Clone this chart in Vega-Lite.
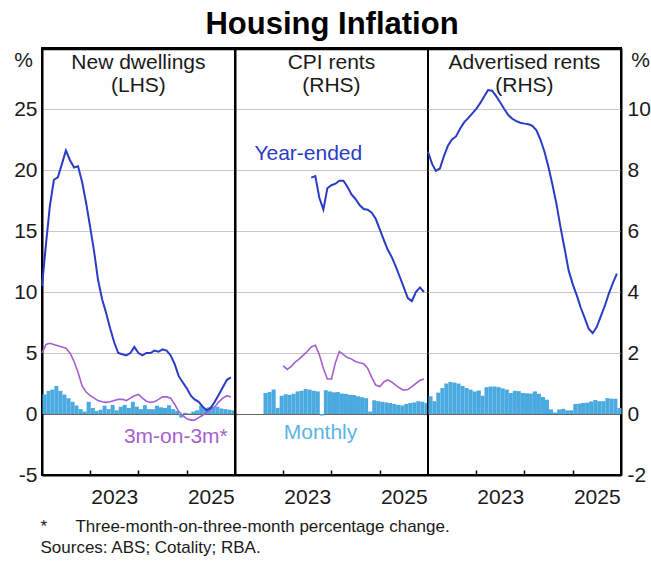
{
  "$schema": "https://vega.github.io/schema/vega-lite/v6.json",
  "padding": {"left": 12, "top": 9, "right": 0, "bottom": 0},
  "title": {"text": "Housing Inflation", "fontSize": 31, "fontWeight": "bold", "font": "Liberation Sans", "color": "#000", "anchor": "middle", "offset": 6},
  "spacing": 0,
  "bounds": "flush",
  "resolve": {"scale": {"y": "independent", "x": "independent"}},
  "datasets": {
    "nd": [
      {"date": "2022-01", "ye": 10.5, "q": 5.0, "m": 1.6},
      {"date": "2022-02", "ye": 14, "q": 5.7, "m": 1.9},
      {"date": "2022-03", "ye": 17, "q": 5.8, "m": 2.0},
      {"date": "2022-04", "ye": 19.2, "q": 5.7, "m": 2.3},
      {"date": "2022-05", "ye": 19.4, "q": 5.6, "m": 1.9},
      {"date": "2022-06", "ye": 20.5, "q": 5.5, "m": 1.6},
      {"date": "2022-07", "ye": 21.6, "q": 5.4, "m": 1.3},
      {"date": "2022-08", "ye": 20.8, "q": 5.0, "m": 1.0},
      {"date": "2022-09", "ye": 20.2, "q": 4.3, "m": 0.7},
      {"date": "2022-10", "ye": 20.3, "q": 3.4, "m": 0.4},
      {"date": "2022-11", "ye": 19.0, "q": 2.3, "m": 0.2},
      {"date": "2022-12", "ye": 17.3, "q": 1.8, "m": 1.0},
      {"date": "2023-01", "ye": 15.3, "q": 1.5, "m": 0.5},
      {"date": "2023-02", "ye": 13.2, "q": 1.3, "m": 0.25},
      {"date": "2023-03", "ye": 11.0, "q": 1.1, "m": 0.35},
      {"date": "2023-04", "ye": 9.4, "q": 1.0, "m": 0.68},
      {"date": "2023-05", "ye": 8.3, "q": 0.95, "m": 0.4},
      {"date": "2023-06", "ye": 7.0, "q": 1.0, "m": 0.74},
      {"date": "2023-07", "ye": 5.9, "q": 1.1, "m": 0.3},
      {"date": "2023-08", "ye": 5.0, "q": 1.2, "m": 0.6},
      {"date": "2023-09", "ye": 4.9, "q": 1.2, "m": 0.75},
      {"date": "2023-10", "ye": 4.8, "q": 1.1, "m": 0.5},
      {"date": "2023-11", "ye": 5.0, "q": 1.3, "m": 1.0},
      {"date": "2023-12", "ye": 5.5, "q": 1.5, "m": 0.6},
      {"date": "2024-01", "ye": 5.0, "q": 1.6, "m": 0.4},
      {"date": "2024-02", "ye": 4.8, "q": 1.3, "m": 0.72},
      {"date": "2024-03", "ye": 5.0, "q": 1.05, "m": 0.4},
      {"date": "2024-04", "ye": 5.0, "q": 0.95, "m": 0.4},
      {"date": "2024-05", "ye": 5.2, "q": 1.0, "m": 0.68},
      {"date": "2024-06", "ye": 5.1, "q": 1.2, "m": 0.55},
      {"date": "2024-07", "ye": 5.3, "q": 1.4, "m": 0.5},
      {"date": "2024-08", "ye": 5.2, "q": 1.4, "m": 0.72},
      {"date": "2024-09", "ye": 4.8, "q": 1.3, "m": 0.4},
      {"date": "2024-10", "ye": 4.1, "q": 0.8, "m": 0.25},
      {"date": "2024-11", "ye": 3.1, "q": 0.2, "m": -0.3},
      {"date": "2024-12", "ye": 2.6, "q": -0.1, "m": 0.1},
      {"date": "2025-01", "ye": 2.1, "q": -0.4, "m": 0.05},
      {"date": "2025-02", "ye": 1.5, "q": -0.5, "m": 0.2},
      {"date": "2025-03", "ye": 1.2, "q": -0.5, "m": 0.3},
      {"date": "2025-04", "ye": 1.0, "q": -0.3, "m": 0.68},
      {"date": "2025-05", "ye": 0.6, "q": -0.1, "m": 0.5},
      {"date": "2025-06", "ye": 0.3, "q": 0.1, "m": 0.55},
      {"date": "2025-07", "ye": 0.5, "q": 0.4, "m": 0.55},
      {"date": "2025-08", "ye": 1.0, "q": 0.6, "m": 0.6},
      {"date": "2025-09", "ye": 1.6, "q": 1.0, "m": 0.45},
      {"date": "2025-10", "ye": 2.2, "q": 1.3, "m": 0.4},
      {"date": "2025-11", "ye": 2.8, "q": 1.5, "m": 0.35},
      {"date": "2025-12", "ye": 3.0, "q": 1.4, "m": 0.3}
    ],
    "cpi": [
      {"date": "2022-08", "ye": null, "q": null, "m": 0.69},
      {"date": "2022-09", "ye": null, "q": null, "m": 0.72},
      {"date": "2022-10", "ye": null, "q": null, "m": 0.8},
      {"date": "2022-11", "ye": null, "q": null, "m": 0.2},
      {"date": "2022-12", "ye": null, "q": null, "m": 0.6},
      {"date": "2023-01", "ye": null, "q": 1.58, "m": 0.65},
      {"date": "2023-02", "ye": null, "q": 1.46, "m": 0.63},
      {"date": "2023-03", "ye": null, "q": 1.55, "m": 0.66},
      {"date": "2023-04", "ye": null, "q": 1.7, "m": 0.74},
      {"date": "2023-05", "ye": null, "q": 1.8, "m": 0.76},
      {"date": "2023-06", "ye": null, "q": 1.92, "m": 0.82},
      {"date": "2023-07", "ye": null, "q": 2.05, "m": 0.8},
      {"date": "2023-08", "ye": 7.75, "q": 2.2, "m": 0.76},
      {"date": "2023-09", "ye": 7.8, "q": 2.25, "m": 0.74},
      {"date": "2023-10", "ye": 7.1, "q": 1.95, "m": -0.05},
      {"date": "2023-11", "ye": 6.7, "q": 1.5, "m": 0.78},
      {"date": "2023-12", "ye": 7.4, "q": 1.15, "m": 0.74},
      {"date": "2024-01", "ye": 7.5, "q": 1.15, "m": 0.71},
      {"date": "2024-02", "ye": 7.55, "q": 1.7, "m": 0.72},
      {"date": "2024-03", "ye": 7.65, "q": 2.05, "m": 0.67},
      {"date": "2024-04", "ye": 7.65, "q": 1.95, "m": 0.66},
      {"date": "2024-05", "ye": 7.45, "q": 1.85, "m": 0.63},
      {"date": "2024-06", "ye": 7.2, "q": 1.8, "m": 0.62},
      {"date": "2024-07", "ye": 7.05, "q": 1.72, "m": 0.58},
      {"date": "2024-08", "ye": 6.85, "q": 1.68, "m": 0.55},
      {"date": "2024-09", "ye": 6.72, "q": 1.65, "m": 0.52},
      {"date": "2024-10", "ye": 6.7, "q": 1.5, "m": 0.08},
      {"date": "2024-11", "ye": 6.6, "q": 1.2, "m": 0.45},
      {"date": "2024-12", "ye": 6.4, "q": 0.95, "m": 0.42},
      {"date": "2025-01", "ye": 6.05, "q": 0.9, "m": 0.4},
      {"date": "2025-02", "ye": 5.7, "q": 1.05, "m": 0.38},
      {"date": "2025-03", "ye": 5.4, "q": 1.12, "m": 0.36},
      {"date": "2025-04", "ye": 5.15, "q": 1.05, "m": 0.33},
      {"date": "2025-05", "ye": 4.85, "q": 0.95, "m": 0.3},
      {"date": "2025-06", "ye": 4.5, "q": 0.85, "m": 0.28},
      {"date": "2025-07", "ye": 4.16, "q": 0.78, "m": 0.33},
      {"date": "2025-08", "ye": 3.8, "q": 0.8, "m": 0.36},
      {"date": "2025-09", "ye": 3.7, "q": 0.9, "m": 0.38},
      {"date": "2025-10", "ye": 4.0, "q": 1.0, "m": 0.42},
      {"date": "2025-11", "ye": 4.15, "q": 1.1, "m": 0.4},
      {"date": "2025-12", "ye": 4.0, "q": 1.15, "m": 0.36}
    ],
    "adv": [
      {"date": "2022-01", "ye": 8.6, "m": 0.58},
      {"date": "2022-02", "ye": 8.2, "m": 0.42},
      {"date": "2022-03", "ye": 7.97, "m": 0.7},
      {"date": "2022-04", "ye": 8.05, "m": 0.85},
      {"date": "2022-05", "ye": 8.45, "m": 1.0},
      {"date": "2022-06", "ye": 8.8, "m": 1.05},
      {"date": "2022-07", "ye": 9.0, "m": 1.03},
      {"date": "2022-08", "ye": 9.1, "m": 1.0},
      {"date": "2022-09", "ye": 9.35, "m": 0.92},
      {"date": "2022-10", "ye": 9.56, "m": 0.85},
      {"date": "2022-11", "ye": 9.7, "m": 0.8},
      {"date": "2022-12", "ye": 9.85, "m": 0.74},
      {"date": "2023-01", "ye": 10.0, "m": 0.77},
      {"date": "2023-02", "ye": 10.2, "m": 0.6},
      {"date": "2023-03", "ye": 10.4, "m": 0.88},
      {"date": "2023-04", "ye": 10.62, "m": 0.9},
      {"date": "2023-05", "ye": 10.6, "m": 0.9},
      {"date": "2023-06", "ye": 10.42, "m": 0.88},
      {"date": "2023-07", "ye": 10.22, "m": 0.84},
      {"date": "2023-08", "ye": 10.0, "m": 0.8},
      {"date": "2023-09", "ye": 9.8, "m": 0.69},
      {"date": "2023-10", "ye": 9.68, "m": 0.76},
      {"date": "2023-11", "ye": 9.6, "m": 0.75},
      {"date": "2023-12", "ye": 9.55, "m": 0.69},
      {"date": "2024-01", "ye": 9.52, "m": 0.68},
      {"date": "2024-02", "ye": 9.5, "m": 0.67},
      {"date": "2024-03", "ye": 9.45, "m": 0.74},
      {"date": "2024-04", "ye": 9.3, "m": 0.66},
      {"date": "2024-05", "ye": 9.0, "m": 0.56},
      {"date": "2024-06", "ye": 8.6, "m": 0.47},
      {"date": "2024-07", "ye": 8.1, "m": 0.15},
      {"date": "2024-08", "ye": 7.5, "m": 0.05},
      {"date": "2024-09", "ye": 6.85, "m": 0.15},
      {"date": "2024-10", "ye": 6.1, "m": 0.17},
      {"date": "2024-11", "ye": 5.4, "m": 0.12},
      {"date": "2024-12", "ye": 4.7, "m": 0.12},
      {"date": "2025-01", "ye": 4.25, "m": 0.33},
      {"date": "2025-02", "ye": 3.88, "m": 0.34},
      {"date": "2025-03", "ye": 3.5, "m": 0.36},
      {"date": "2025-04", "ye": 3.15, "m": 0.37},
      {"date": "2025-05", "ye": 2.8, "m": 0.41},
      {"date": "2025-06", "ye": 2.65, "m": 0.46},
      {"date": "2025-07", "ye": 2.85, "m": 0.42},
      {"date": "2025-08", "ye": 3.2, "m": 0.42},
      {"date": "2025-09", "ye": 3.55, "m": 0.52},
      {"date": "2025-10", "ye": 3.95, "m": 0.5},
      {"date": "2025-11", "ye": 4.3, "m": 0.5},
      {"date": "2025-12", "ye": 4.6, "m": 0.2}
    ],
    "labels": [
      {"panel": "nd", "label": "New dwellings", "kind": "title", "at": "2024/01/01", "val": 28.77},
      {"panel": "nd", "label": "(LHS)", "kind": "title", "at": "2024/01/01", "val": 26.9},
      {"panel": "nd", "label": "3m-on-3m*", "kind": "q", "at": "2024/10/10", "val": -1.9},
      {"panel": "cpi", "label": "CPI rents", "kind": "title", "at": "2024/01/01", "val": 11.51},
      {"panel": "cpi", "label": "(RHS)", "kind": "title", "at": "2024/01/01", "val": 10.76},
      {"panel": "cpi", "label": "Year-ended", "kind": "ye", "at": "2023/07/10", "val": 8.52},
      {"panel": "cpi", "label": "Monthly", "kind": "m", "at": "2023/10/10", "val": -0.63},
      {"panel": "adv", "label": "Advertised rents", "kind": "title", "at": "2024/01/01", "val": 11.51},
      {"panel": "adv", "label": "(RHS)", "kind": "title", "at": "2024/01/01", "val": 10.76}
    ],
    "frame": [
      {"panel": "nd", "top": 29.9},
      {"panel": "cpi", "top": 11.96},
      {"panel": "adv", "top": 11.96}
    ]
  },
  "hconcat": [
    {
      "width": 193,
      "height": 427,
      "data": {"name": "nd", "format": {"parse": {"date": "date:'%Y-%m'"}}},
      "layer": [
        {
          "mark": {"type": "bar", "color": "#4aa9de"},
          "encoding": {
            "x": {
              "field": "date", "timeUnit": "yearmonth", "type": "temporal",
              "scale": {"domain": [{"year": 2022, "month": 1, "date": 1}, {"year": 2026, "month": 1, "date": 1}]},
              "axis": {
                "values": [{"year": 2023, "month": 1, "date": 1}, {"year": 2024, "month": 1, "date": 1}, {"year": 2025, "month": 1, "date": 1}],
                "labelExpr": "year(datum.value) == 2024 ? '' : timeFormat(datum.value, '%Y')",
                "labelOffset": 24, "labelFlush": false, "labelOverlap": false, "labelBound": false,
                "tickSize": -5, "tickColor": "#000", "tickWidth": 1.5, "labelPadding": 16,
                "grid": false, "domain": true, "domainColor": "#000", "domainWidth": 2, "labelFontSize": 21,
                "title": ["*\u00a0\u00a0\u00a0\u00a0\u00a0\u00a0Three-month-on-three-month percentage change.", "Sources: ABS; Cotality; RBA."],
                "titleX": -2, "titleY": 56, "titleAnchor": "start", "titleAlign": "left", "titleBaseline": "alphabetic",
                "titleFontSize": 17, "titleFontWeight": "normal", "titleLineHeight": 21
              }
            },
            "y": {
              "field": "m", "type": "quantitative",
              "scale": {"domain": [-5, 30], "nice": false, "zero": false},
              "axis": {
                "orient": "left", "values": [-5, 0, 5, 10, 15, 20, 25], "ticks": false,
                "domain": true, "domainColor": "#000", "domainWidth": 2,
                "labelExpr": "'' + datum.value",
                "labelPadding": 5, "labelFontSize": 21, "grid": true,
                "gridColor": {"condition": {"test": "datum.value === 0", "value": "#666"}, "value": "#c8c8c8"},
                "gridOpacity": {"condition": {"test": "datum.value === -5", "value": 0}, "value": 1},
                "title": "%", "titleAngle": 0, "titleX": -19, "titleY": 12, "titleAlign": "center", "titleBaseline": "middle",
                "titleFontSize": 21, "titleFontWeight": "normal"
              }
            }
          }
        },
        {
          "mark": {"type": "line", "color": "#a55fd0", "strokeWidth": 1.6},
          "encoding": {
            "x": {"field": "date", "timeUnit": "yearmonth", "type": "temporal", "bandPosition": 0},
            "y": {"field": "q", "type": "quantitative", "scale": {"domain": [-5, 30], "nice": false, "zero": false}}
          }
        },
        {
          "mark": {"type": "line", "color": "#2a3cc6", "strokeWidth": 2},
          "encoding": {
            "x": {"field": "date", "timeUnit": "yearmonth", "type": "temporal", "bandPosition": 0},
            "y": {"field": "ye", "type": "quantitative", "scale": {"domain": [-5, 30], "nice": false, "zero": false}}
          }
        },
        {
          "data": {"name": "frame"},
          "transform": [{"filter": "datum.panel == 'nd'"}],
          "mark": {"type": "rule", "color": "#000", "strokeWidth": 2},
          "encoding": {
            "y": {"field": "top", "type": "quantitative", "scale": {"domain": [-5, 30], "nice": false, "zero": false}}
          }
        },
        {
          "data": {"name": "labels"},
          "transform": [{"filter": "datum.panel == 'nd'"}],
          "mark": {"type": "text", "fontSize": 21, "align": "center", "baseline": "middle"},
          "encoding": {
            "x": {"field": "at", "type": "temporal"},
            "y": {"field": "val", "type": "quantitative", "scale": {"domain": [-5, 30], "nice": false, "zero": false}},
            "text": {"field": "label"},
            "color": {"field": "kind", "type": "nominal", "scale": {"domain": ["title", "ye", "q", "m"], "range": ["#1a1a1a", "#2a3cc6", "#a55fd0", "#5ab4e6"]}, "legend": null}
          }
        }
      ]
    },
    {
      "width": 193,
      "height": 427,
      "data": {"name": "cpi", "format": {"parse": {"date": "date:'%Y-%m'"}}},
      "layer": [
        {
          "mark": {"type": "bar", "color": "#4aa9de"},
          "encoding": {
            "x": {
              "field": "date", "timeUnit": "yearmonth", "type": "temporal",
              "scale": {"domain": [{"year": 2022, "month": 1, "date": 1}, {"year": 2026, "month": 1, "date": 1}]},
              "axis": {
                "values": [{"year": 2023, "month": 1, "date": 1}, {"year": 2024, "month": 1, "date": 1}, {"year": 2025, "month": 1, "date": 1}],
                "labelExpr": "year(datum.value) == 2024 ? '' : timeFormat(datum.value, '%Y')",
                "labelOffset": 24, "labelFlush": false, "labelOverlap": false, "labelBound": false,
                "tickSize": -5, "tickColor": "#000", "tickWidth": 1.5, "labelPadding": 16,
                "grid": false, "domain": true, "domainColor": "#000", "domainWidth": 2, "labelFontSize": 21, "title": null
              }
            },
            "y": {
              "field": "m", "type": "quantitative",
              "scale": {"domain": [-2, 12], "nice": false, "zero": false},
              "axis": {
                "orient": "left", "values": [-2, 0, 2, 4, 6, 8, 10], "ticks": false, "labels": false,
                "domain": true, "domainColor": "#000", "domainWidth": 2,
                "grid": true,
                "gridColor": {"condition": {"test": "datum.value === 0", "value": "#666"}, "value": "#c8c8c8"},
                "gridOpacity": {"condition": {"test": "datum.value === -2", "value": 0}, "value": 1},
                "title": null
              }
            }
          }
        },
        {
          "mark": {"type": "line", "color": "#a55fd0", "strokeWidth": 1.6},
          "encoding": {
            "x": {"field": "date", "timeUnit": "yearmonth", "type": "temporal", "bandPosition": 0},
            "y": {"field": "q", "type": "quantitative", "scale": {"domain": [-2, 12], "nice": false, "zero": false}}
          }
        },
        {
          "mark": {"type": "line", "color": "#2a3cc6", "strokeWidth": 2},
          "encoding": {
            "x": {"field": "date", "timeUnit": "yearmonth", "type": "temporal", "bandPosition": 0},
            "y": {"field": "ye", "type": "quantitative", "scale": {"domain": [-2, 12], "nice": false, "zero": false}}
          }
        },
        {
          "data": {"name": "frame"},
          "transform": [{"filter": "datum.panel == 'cpi'"}],
          "mark": {"type": "rule", "color": "#000", "strokeWidth": 2},
          "encoding": {
            "y": {"field": "top", "type": "quantitative", "scale": {"domain": [-2, 12], "nice": false, "zero": false}}
          }
        },
        {
          "data": {"name": "labels"},
          "transform": [{"filter": "datum.panel == 'cpi'"}],
          "mark": {"type": "text", "fontSize": 21, "align": "center", "baseline": "middle"},
          "encoding": {
            "x": {"field": "at", "type": "temporal"},
            "y": {"field": "val", "type": "quantitative", "scale": {"domain": [-2, 12], "nice": false, "zero": false}},
            "text": {"field": "label"},
            "color": {"field": "kind", "type": "nominal", "scale": {"domain": ["title", "ye", "q", "m"], "range": ["#1a1a1a", "#2a3cc6", "#a55fd0", "#5ab4e6"]}, "legend": null}
          }
        }
      ]
    },
    {
      "width": 193,
      "height": 427,
      "data": {"name": "adv", "format": {"parse": {"date": "date:'%Y-%m'"}}},
      "layer": [
        {
          "mark": {"type": "bar", "color": "#4aa9de"},
          "encoding": {
            "x": {
              "field": "date", "timeUnit": "yearmonth", "type": "temporal",
              "scale": {"domain": [{"year": 2022, "month": 1, "date": 1}, {"year": 2026, "month": 1, "date": 1}]},
              "axis": {
                "values": [{"year": 2023, "month": 1, "date": 1}, {"year": 2024, "month": 1, "date": 1}, {"year": 2025, "month": 1, "date": 1}],
                "labelExpr": "year(datum.value) == 2024 ? '' : timeFormat(datum.value, '%Y')",
                "labelOffset": 24, "labelFlush": false, "labelOverlap": false, "labelBound": false,
                "tickSize": -5, "tickColor": "#000", "tickWidth": 1.5, "labelPadding": 16,
                "grid": false, "domain": true, "domainColor": "#000", "domainWidth": 2, "labelFontSize": 21, "title": null
              }
            },
            "y": {
              "field": "m", "type": "quantitative",
              "scale": {"domain": [-2, 12], "nice": false, "zero": false},
              "axis": {
                "orient": "right", "values": [-2, 0, 2, 4, 6, 8, 10], "ticks": false,
                "domain": true, "domainColor": "#000", "domainWidth": 2,
                "labelExpr": "'' + datum.value",
                "labelPadding": 6, "labelFontSize": 21, "grid": true,
                "gridColor": {"condition": {"test": "datum.value === 0", "value": "#666"}, "value": "#c8c8c8"},
                "gridOpacity": {"condition": {"test": "datum.value === -2", "value": 0}, "value": 1},
                "title": "%", "titleAngle": 0, "titleX": 19, "titleY": 12, "titleAlign": "center", "titleBaseline": "middle",
                "titleFontSize": 21, "titleFontWeight": "normal"
              }
            }
          }
        },
        {
          "mark": {"type": "line", "color": "#2a3cc6", "strokeWidth": 2},
          "encoding": {
            "x": {"field": "date", "timeUnit": "yearmonth", "type": "temporal", "bandPosition": 0},
            "y": {"field": "ye", "type": "quantitative", "scale": {"domain": [-2, 12], "nice": false, "zero": false}}
          }
        },
        {
          "data": {"name": "frame"},
          "transform": [{"filter": "datum.panel == 'adv'"}],
          "mark": {"type": "rule", "color": "#000", "strokeWidth": 2},
          "encoding": {
            "y": {"field": "top", "type": "quantitative", "scale": {"domain": [-2, 12], "nice": false, "zero": false}}
          }
        },
        {
          "data": {"name": "labels"},
          "transform": [{"filter": "datum.panel == 'adv'"}],
          "mark": {"type": "text", "fontSize": 21, "align": "center", "baseline": "middle"},
          "encoding": {
            "x": {"field": "at", "type": "temporal"},
            "y": {"field": "val", "type": "quantitative", "scale": {"domain": [-2, 12], "nice": false, "zero": false}},
            "text": {"field": "label"},
            "color": {"field": "kind", "type": "nominal", "scale": {"domain": ["title", "ye", "q", "m"], "range": ["#1a1a1a", "#2a3cc6", "#a55fd0", "#5ab4e6"]}, "legend": null}
          }
        }
      ]
    }
  ],
  "config": {
    "font": "Liberation Sans",
    "view": {"stroke": "#000", "strokeWidth": 2},
    "axis": {"labelFont": "Liberation Sans", "titleFont": "Liberation Sans", "labelColor": "#1a1a1a", "titleColor": "#1a1a1a"},
    "bar": {"binSpacing": 0},
    "text": {"font": "Liberation Sans"}
  }
}
